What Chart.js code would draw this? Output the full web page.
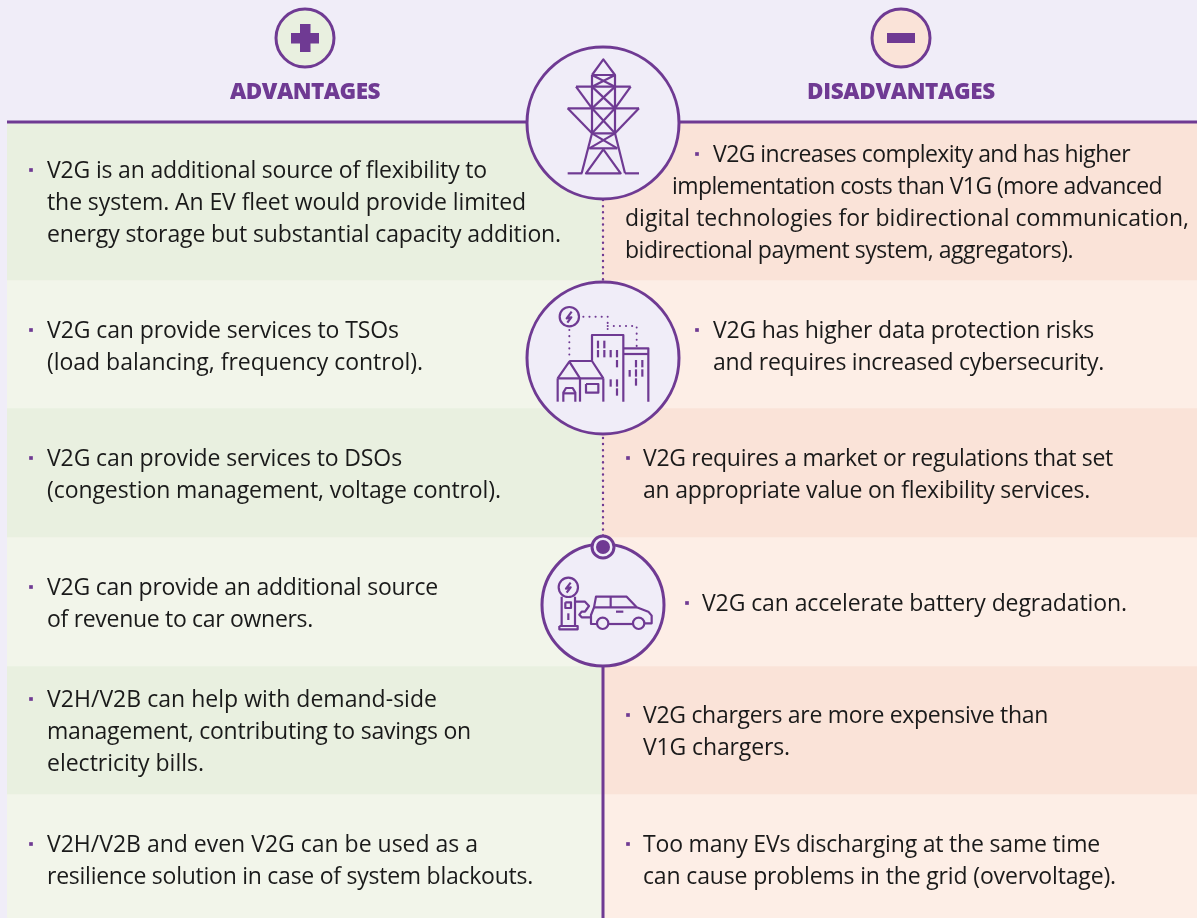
<!DOCTYPE html>
<html>
<head>
<meta charset="utf-8">
<script src="https://cdn.jsdelivr.net/npm/chart.js@4"></script>
<style>
  html, body { margin: 0; padding: 0; background: #f0edf8; overflow: hidden; }
  canvas { display: block; }
</style>
</head>
<body>
<canvas id="chart" width="1197" height="918"></canvas>
<script>
// ----------------- DATA -----------------
var columns = ["ADVANTAGES", "DISADVANTAGES"];
// height of each band down the page, first one is the header
var rowHeights = [122, 158, 128, 129, 129, 128, 124];

var advantages = [
  ["V2G is an additional source of flexibility to", "the system. An EV fleet would provide limited", "energy storage but substantial capacity addition."],
  ["V2G can provide services to TSOs", "(load balancing, frequency control)."],
  ["V2G can provide services to DSOs", "(congestion management, voltage control)."],
  ["V2G can provide an additional source", "of revenue to car owners."],
  ["V2H/V2B can help with demand-side", "management, contributing to savings on", "electricity bills."],
  ["V2H/V2B and even V2G can be used as a", "resilience solution in case of system blackouts."]
];
var disadvantages = [
  ["V2G increases complexity and has higher", "implementation costs than V1G (more advanced", "digital technologies for bidirectional communication,", "bidirectional payment system, aggregators)."],
  ["V2G has higher data protection risks", "and requires increased cybersecurity."],
  ["V2G requires a market or regulations that set", "an appropriate value on flexibility services."],
  ["V2G can accelerate battery degradation."],
  ["V2G chargers are more expensive than", "V1G chargers."],
  ["Too many EVs discharging at the same time", "can cause problems in the grid (overvoltage)."]
];

// ----------------- STYLE / LAYOUT -----------------
var PURPLE = "#6f3a93";
var LAVENDER = "#f0edf8";
var INK = "#1a1a1a";
var TEXT_FONT = "23px 'Open Sans'";
var HEAD_FONT = "800 22.5px 'Open Sans'";
var rowLeftColors = ["rgba(0,0,0,0)", "#e9f0e0", "#f2f5ea", "#e9f0e0", "#f2f5ea", "#e9f0e0", "#f2f5ea"];
var rowRightColors = ["rgba(0,0,0,0)", "#fae3d8", "#fdeee6", "#fae3d8", "#fdeee6", "#fae3d8", "#fdeee6"];

// first baseline, x start and x end of each line of every block
var advFirstBase = [178, 338, 466, 595, 707, 852];
var disFirstBase = [162, 338, 466, 611, 723, 852];
var advLineEnd = [[487, 526, 561], [399, 423], [402, 501], [438, 313], [437, 471, 204], [478, 533]];
var disLineX = [[713, 672, 625, 625], [713, 713], [643, 643], [702], [643, 643], [643, 643]];
var disLineEnd = [[1130, 1162, 1189, 1073], [1094, 1104], [1113, 1090], [1127], [1048, 790], [1100, 1116]];
var LINE_GAP = 32;
var headSpan = [[230, 380], [807, 995]];

var ruleLine = [{x: 7, y: 122}, {x: 1197, y: 122}];
var dottedLine = [{x: 603, y: 200}, {x: 603, y: 540}];
var solidLine = [{x: 603, y: 665}, {x: 603, y: 918}];
var bigCircles = [{x: 603, y: 123}, {x: 603, y: 358}];
var carCircle = [{x: 603, y: 605}];
var knob = [{x: 603, y: 547}];
var plusCircle = [{x: 305, y: 38}];
var minusCircle = [{x: 901, y: 38}];
var advBullets = [{x: 31, y: 170}, {x: 31, y: 330}, {x: 31, y: 458}, {x: 31, y: 587}, {x: 31, y: 699}, {x: 31, y: 844}];
var disBullets = [{x: 697, y: 154}, {x: 697, y: 330}, {x: 628, y: 458}, {x: 687, y: 603}, {x: 628, y: 715}, {x: 628, y: 844}];

// ----------------- ICONS (polylines, in 3x units from an origin) -----------------
function tick(x, y1, y2) { return [[x, y1], [x, y2]]; }

var towerIcon = {ox: 200, oy: 0, lines: [
  [[1176, 225], [1210, 178], [1245, 225]],
  [[1176, 225], [1245, 225], [1245, 400], [1176, 400], [1176, 225]],
  [[1128, 260], [1292, 260]], [[1128, 260], [1176, 325]], [[1292, 260], [1245, 325]],
  [[1103, 325], [1317, 325]], [[1103, 325], [1176, 400]], [[1317, 325], [1245, 400]],
  [[1176, 225], [1245, 260]], [[1245, 225], [1176, 260]],
  [[1176, 260], [1245, 325]], [[1245, 260], [1176, 325]],
  [[1176, 325], [1245, 400]], [[1245, 325], [1176, 400]],
  [[1176, 400], [1252, 445]], [[1245, 400], [1168, 445]], [[1168, 445], [1252, 445]],
  [[1176, 400], [1145, 520]], [[1245, 400], [1275, 520]],
  [[1210, 448], [1158, 520], [1262, 520], [1210, 448]],
  [[1103, 520], [1147, 520]], [[1275, 520], [1317, 520]]
]};

var cityIcon = {ox: 510, oy: 270, circles: [[178, 140, 29]], lines: [
  [[246, 272], [246, 195], [340, 195], [340, 395]],
  [[340, 235], [415, 235], [415, 395]], [[340, 252], [415, 252]],
  [[143, 325], [178, 275], [210, 325]], [[178, 273], [246, 273], [280, 325]],
  [[143, 325], [280, 325]], [[143, 325], [143, 395]], [[210, 325], [210, 395]], [[280, 325], [280, 395]],
  [[160, 395], [160, 368], [168, 354], [188, 354], [196, 368], [196, 395]], [[160, 370], [196, 370]],
  [[228, 342], [265, 342], [265, 368], [228, 368], [228, 342]],
  tick(264, 212, 235), tick(283, 212, 235), tick(264, 240, 262), tick(283, 240, 262),
  tick(302, 240, 262), tick(321, 240, 262), tick(321, 270, 292), tick(302, 328, 350),
  tick(321, 328, 350), tick(321, 355, 377), tick(378, 270, 292), tick(397, 270, 292),
  tick(359, 300, 320), tick(378, 298, 320), tick(397, 298, 320), tick(378, 325, 347)
], after: [
  [[185, 125], [170, 145], [184, 142], [172, 158]]
], dots: [
  [[178, 180], [178, 270]],
  [[220, 140], [293, 140], [293, 190]],
  [[293, 168], [380, 168], [380, 230]]
]};

var carIcon = {ox: 520, oy: 520, circles: [[145, 202, 29], [248, 310, 17], [356, 310, 17]], lines: [
  [[125, 230], [125, 318], [165, 318], [165, 230]],
  [[118, 318], [173, 318], [173, 328], [118, 328], [118, 318]],
  [[136, 247], [153, 247], [153, 264], [136, 264], [136, 247]],
  tick(145, 280, 300),
  [[165, 245], [195, 245], [207, 258], [195, 275], [185, 275], [178, 284], [185, 292], [213, 292]],
  [[231, 312], [213, 312], [213, 285], [222, 262], [228, 230], [320, 230], [350, 262], [385, 275], [395, 287], [395, 310], [373, 310]],
  [[339, 312], [265, 312]], [[222, 262], [350, 262]], tick(272, 230, 262), [[288, 275], [310, 275]]
], after: [
  [[152, 188], [138, 206], [152, 202], [140, 218]]
]};

// ----------------- PLUGIN -----------------
function drawIcon(ctx, s, icon) {
  function px(p) { return s.xp.getPixelForValue(icon.ox + p[0] / 3); }
  function py(p) { return s.yp.getPixelForValue(icon.oy + p[1] / 3); }
  function path(line) {
    ctx.beginPath();
    line.forEach(function (p, i) {
      if (i === 0) ctx.moveTo(px(p), py(p)); else ctx.lineTo(px(p), py(p));
    });
    ctx.stroke();
  }
  ctx.strokeStyle = PURPLE;
  ctx.lineWidth = 2.2;
  ctx.lineJoin = "round";
  ctx.lineCap = "butt";
  ctx.setLineDash([]);
  icon.lines.forEach(path);
  (icon.circles || []).forEach(function (c) {
    ctx.beginPath();
    ctx.arc(px(c), py(c), c[2] / 3, 0, Math.PI * 2);
    ctx.fillStyle = LAVENDER;
    ctx.fill();
    ctx.stroke();
  });
  (icon.after || []).forEach(path);
  ctx.lineCap = "round";
  ctx.setLineDash([0.1, 6]);
  ctx.lineWidth = 2;
  (icon.dots || []).forEach(path);
  ctx.setLineDash([]);
}

// stretches a line so it runs from x0 to x1 like the original type
function fitText(ctx, text, x0, x1, y) {
  ctx.letterSpacing = "0px";
  var w = ctx.measureText(text).width;
  ctx.letterSpacing = ((x1 - x0 - w) / text.length) + "px";
  ctx.fillText(text, x0, y);
}

var artPlugin = {
  id: "art",
  afterDatasetsDraw: function (chart) {
    var ctx = chart.ctx;
    var s = chart.scales;
    var X = function (v) { return s.xp.getPixelForValue(v); };
    var Y = function (v) { return s.yp.getPixelForValue(v); };
    ctx.save();

    // plus and minus glyphs
    ctx.fillStyle = PURPLE;
    ctx.fillRect(X(291), Y(33), 28, 10.5);
    ctx.fillRect(X(300), Y(24), 10.5, 28);
    ctx.fillRect(X(887), Y(33), 28, 10);

    drawIcon(ctx, s, towerIcon);
    drawIcon(ctx, s, cityIcon);
    drawIcon(ctx, s, carIcon);

    // column heads
    ctx.font = HEAD_FONT;
    ctx.fillStyle = PURPLE;
    ctx.textAlign = "left";
    ctx.textBaseline = "alphabetic";
    columns.forEach(function (c, i) {
      fitText(ctx, c, X(headSpan[i][0]), X(headSpan[i][1]), Y(99));
    });

    // body text
    ctx.font = TEXT_FONT;
    ctx.fillStyle = INK;
    advantages.forEach(function (block, b) {
      block.forEach(function (line, i) {
        fitText(ctx, line, X(47), X(advLineEnd[b][i]), Y(advFirstBase[b] + i * LINE_GAP));
      });
    });
    disadvantages.forEach(function (block, b) {
      block.forEach(function (line, i) {
        fitText(ctx, line, X(disLineX[b][i]), X(disLineEnd[b][i]), Y(disFirstBase[b] + i * LINE_GAP));
      });
    });
    ctx.restore();
  }
};

// ----------------- CHART -----------------
function overlay(type, data, extra) {
  var d = {type: type, data: data, xAxisID: "xp", yAxisID: "yp", clip: false, showLine: type === "line", fill: false};
  return Object.assign(d, extra);
}

var datasets = rowHeights.map(function (h, i) {
  return {
    type: "bar",
    label: "band " + i,
    data: [h, h],
    stack: "rows",
    grouped: false,
    backgroundColor: [rowLeftColors[i], rowRightColors[i]],
    borderWidth: 0,
    barPercentage: 1,
    categoryPercentage: 1,
    order: 9
  };
});

var circleStyle = {pointStyle: "circle", pointBackgroundColor: LAVENDER, pointBorderColor: PURPLE, pointBorderWidth: 3};

datasets.push(overlay("line", ruleLine, {borderColor: PURPLE, borderWidth: 3, pointRadius: 0, order: 6}));
datasets.push(overlay("line", dottedLine, {borderColor: PURPLE, borderWidth: 2.4, borderDash: [0.1, 6], borderCapStyle: "round", pointRadius: 0, order: 6}));
datasets.push(overlay("line", solidLine, {borderColor: PURPLE, borderWidth: 3, pointRadius: 0, order: 6}));
datasets.push(overlay("scatter", advBullets, {pointStyle: "rect", pointRadius: 2.6, pointBackgroundColor: PURPLE, pointBorderWidth: 0, order: 6}));
datasets.push(overlay("scatter", disBullets, {pointStyle: "rect", pointRadius: 2.6, pointBackgroundColor: PURPLE, pointBorderWidth: 0, order: 6}));
datasets.push(overlay("scatter", bigCircles, Object.assign({pointRadius: 76}, circleStyle, {order: 5})));
datasets.push(overlay("scatter", carCircle, Object.assign({pointRadius: 61}, circleStyle, {order: 5})));
datasets.push(overlay("scatter", plusCircle, Object.assign({pointRadius: 29}, circleStyle, {pointBackgroundColor: "#e9f0e0", order: 5})));
datasets.push(overlay("scatter", minusCircle, Object.assign({pointRadius: 29}, circleStyle, {pointBackgroundColor: "#fae3d8", order: 5})));
datasets.push(overlay("scatter", knob, Object.assign({pointRadius: 11}, circleStyle, {order: 3})));
datasets.push(overlay("scatter", knob, {pointRadius: 7, pointBackgroundColor: PURPLE, pointBorderWidth: 0, order: 2}));

new Chart(document.getElementById("chart"), {
  type: "bar",
  data: {labels: columns, datasets: datasets},
  plugins: [artPlugin],
  options: {
    responsive: false,
    animation: false,
    events: [],
    layout: {autoPadding: false, padding: {left: 7, right: 0, top: 0, bottom: 0}},
    plugins: {legend: {display: false}, tooltip: {enabled: false}, title: {display: false}},
    scales: {
      x: {type: "category", offset: true, stacked: true, display: false},
      y: {type: "linear", stacked: true, reverse: true, min: 0, max: 918, display: false},
      xp: {type: "linear", offset: false, min: 7, max: 1197, display: false},
      yp: {type: "linear", reverse: true, min: 0, max: 918, display: false}
    }
  }
});
</script>
</body>
</html>
